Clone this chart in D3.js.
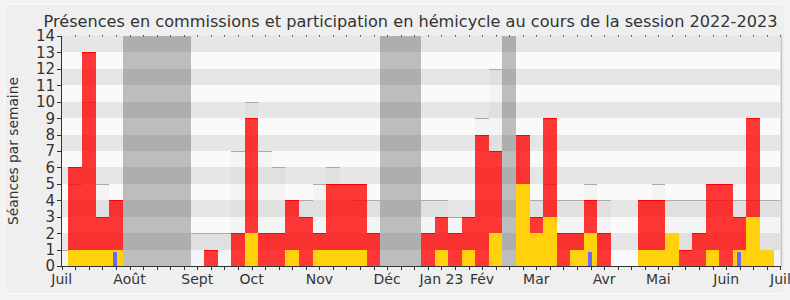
<!DOCTYPE html>
<html>
<head>
<meta charset="utf-8">
<script src="https://cdn.jsdelivr.net/npm/d3@7"></script>
<style>
  body { margin: 0; background: #f3f3f3; }
  svg { display: block; font-family: "DejaVu Sans", Verdana, sans-serif; }
</style>
</head>
<body>
<div id="chart"></div>
<script>
// one slot per week, slot 0 and slot 53 are the partial weeks at both ends
const weeks = d3.range(54);
const commissions = [0, 6, 13, 3, 4, 0, 0, 0, 0, 0, 0, 1, 0, 2, 9, 2, 2, 4, 3, 2, 5, 5, 5, 2, 0, 0, 0,
    2, 3, 2, 3, 8, 7, 0, 8, 3, 9, 2, 2, 4, 2, 0, 0, 4, 4, 2, 1, 2, 5, 5, 3, 9, 1, 0];
const hemicycle = [0, 1, 1, 1, 1, 0, 0, 0, 0, 0, 0, 0, 0, 0, 2, 0, 0, 1, 0, 1, 1, 1, 1, 0, 0, 0, 0,
    0, 1, 0, 1, 0, 2, 0, 5, 2, 3, 0, 1, 2, 0, 0, 0, 1, 1, 2, 0, 0, 1, 0, 1, 3, 1, 0];
const questions = [0, 0, 0, 0, 1, 0, 0, 0, 0, 0, 0, 0, 0, 0, 0, 0, 0, 0, 0, 0, 0, 0, 0, 0, 0, 0, 0,
    0, 0, 0, 0, 0, 0, 0, 0, 0, 0, 0, 0, 1, 0, 0, 0, 0, 0, 0, 0, 0, 0, 0, 1, 0, 0, 0];
const mediane = [1, 5, 10, 5, 4, 0, 0, 0, 0, 0, 2, 2, 2, 7, 10, 7, 6, 4, 4, 5, 6, 5, 4, 4, 0, 0, 0,
    4, 4, 3, 3, 9, 12, 0, 5, 4, 5, 4, 4, 5, 4, 0, 0, 4, 5, 4, 4, 4, 4, 4, 4, 4, 4, 4];
const vacances = [0, 0, 0, 0, 0, 14, 14, 14, 14, 14, 0, 0, 0, 0, 0, 0, 0, 0, 0, 0, 0, 0, 0, 0, 14, 14, 14,
    0, 0, 0, 0, 0, 0, 14, 0, 0, 0, 0, 0, 0, 0, 0, 0, 0, 0, 0, 0, 0, 0, 0, 0, 0, 0, 0];
const monthTicks = [0, 5, 10, 14, 19, 24, 28, 31, 35, 40, 44, 49, 53];
const monthLabels = ["Juil", "Août", "Sept", "Oct", "Nov", "Déc", "Jan 23", "Fév", "Mar", "Avr", "Mai", "Juin", "Juil"];
const yTicks = d3.range(0, 15);
const titleText = "Présences en commissions et participation en hémicycle au cours de la session 2022-2023";
const yTitle = "Séances par semaine";

const width = 790, height = 300;
const plot = {left: 61.7, right: 780.4, top: 36, bottom: 266};

const svg = d3.select("#chart").append("svg")
    .attr("width", width)
    .attr("height", height);

svg.append("rect")
    .attr("x", 4.5).attr("y", 4.5)
    .attr("width", 781).attr("height", 289)
    .attr("rx", 6)
    .attr("fill", "#efefef")
    .attr("stroke", "#fcfcfc");

const x = d3.scaleLinear().domain([0, 53]).range([plot.left, plot.right]);
const y = d3.scaleLinear().domain([0, 14]).range([plot.bottom, plot.top]);
const bw = x(1) - x(0);

svg.append("clipPath").attr("id", "clip")
    .append("rect")
    .attr("x", plot.left).attr("y", plot.top)
    .attr("width", plot.right - plot.left).attr("height", plot.bottom - plot.top);

const g = svg.append("g").attr("clip-path", "url(#clip)");

// stripes
g.append("g").selectAll("rect")
    .data(d3.range(14))
    .enter().append("rect")
    .attr("x", plot.left)
    .attr("width", plot.right - plot.left)
    .attr("y", d => y(d + 1))
    .attr("height", d => y(d) - y(d + 1))
    .attr("fill", d => d % 2 ? "#e6e6e6" : "#fafafa")
    .attr("shape-rendering", "crispEdges");

function bars(cls, values, fill, inset) {
    return g.append("g").attr("class", cls)
        .selectAll("rect")
        .data(weeks.filter(i => values[i] > 0))
        .enter().append("rect")
        .attr("x", i => x(i) - bw / 2 + (inset || 0))
        .attr("width", bw - 2 * (inset || 0))
        .attr("y", i => y(values[i]))
        .attr("height", i => y(0) - y(values[i]))
        .attr("fill", fill)
        .attr("shape-rendering", "crispEdges");
}

function topLines(values, stroke) {
    g.append("g").selectAll("line")
        .data(weeks.filter(i => values[i] > 0))
        .enter().append("line")
        .attr("x1", i => x(i) - bw / 2)
        .attr("x2", i => x(i) + bw / 2)
        .attr("y1", i => Math.round(y(values[i])) + 0.5)
        .attr("y2", i => Math.round(y(values[i])) + 0.5)
        .attr("stroke", stroke)
        .attr("shape-rendering", "crispEdges");
}

bars("mediane", mediane, "rgba(0,0,0,0.025)");
topLines(mediane, "#aaaaaa");
bars("commissions", commissions, "rgba(255,0,0,0.78)");
topLines(commissions, "#ff0000");
bars("hemicycle", hemicycle, "#ffd20c");

g.append("g").selectAll("rect")
    .data(weeks.filter(i => questions[i] > 0))
    .enter().append("rect")
    .attr("x", i => x(i) - 2.5)
    .attr("width", 4)
    .attr("y", i => y(questions[i]) + 2)
    .attr("height", i => y(0) - y(questions[i]) - 2)
    .attr("fill", "#6868ff")
    .attr("shape-rendering", "crispEdges");

bars("vacances", vacances, "rgba(0,0,0,0.245)");

// right shadow of plot
svg.append("line")
    .attr("x1", plot.right + 1).attr("x2", plot.right + 1)
    .attr("y1", plot.top).attr("y2", plot.bottom + 1)
    .attr("stroke", "#c4c4c4").attr("stroke-width", 1.5);

// axes
svg.append("line")
    .attr("x1", plot.left).attr("x2", plot.left)
    .attr("y1", plot.top).attr("y2", plot.bottom)
    .attr("stroke", "#333").attr("shape-rendering", "crispEdges");
svg.append("line")
    .attr("x1", plot.left).attr("x2", plot.right)
    .attr("y1", plot.bottom + 0.5).attr("y2", plot.bottom + 0.5)
    .attr("stroke", "#333").attr("shape-rendering", "crispEdges");

svg.append("g").selectAll("line")
    .data(yTicks)
    .enter().append("line")
    .attr("x1", plot.left - 5).attr("x2", plot.left)
    .attr("y1", d => Math.round(y(d)) + 0.5).attr("y2", d => Math.round(y(d)) + 0.5)
    .attr("stroke", "#333").attr("shape-rendering", "crispEdges");

svg.append("g").selectAll("text")
    .data(yTicks)
    .enter().append("text")
    .attr("x", 55)
    .attr("y", d => y(d))
    .attr("dy", "0.36em")
    .attr("text-anchor", "end")
    .attr("font-size", 15)
    .attr("fill", "#333")
    .text(d => d);

svg.append("g").selectAll("line")
    .data(weeks)
    .enter().append("line")
    .attr("x1", i => Math.round(x(i)) + 0.5).attr("x2", i => Math.round(x(i)) + 0.5)
    .attr("y1", plot.bottom).attr("y2", plot.bottom + 4)
    .attr("stroke", "#333").attr("shape-rendering", "crispEdges");

svg.append("g").selectAll("rect")
    .data(weeks.slice(1))
    .enter().append("rect")
    .attr("x", i => Math.round(x(i)))
    .attr("y", plot.top - 1)
    .attr("width", 1).attr("height", 1.5)
    .attr("fill", "#444");

svg.append("g").selectAll("text")
    .data(monthTicks)
    .enter().append("text")
    .attr("x", (d, i) => x(d))
    .attr("y", 284)
    .attr("text-anchor", "middle")
    .attr("font-size", 14)
    .attr("fill", "#333")
    .text((d, i) => monthLabels[i]);

// titles, fitted to the widths
const title = svg.append("text")
    .attr("x", 410.5).attr("y", 27)
    .attr("text-anchor", "middle")
    .attr("font-size", 16)
    .attr("fill", "#333")
    .text(titleText);
const tl = title.node().getComputedTextLength();
title.attr("font-size", 16 * 735 / tl);

const ylab = svg.append("text")
    .attr("transform", "translate(18,151) rotate(-90)")
    .attr("text-anchor", "middle")
    .attr("font-size", 14)
    .attr("fill", "#333")
    .text(yTitle);
const yl = ylab.node().getComputedTextLength();
ylab.attr("font-size", 14 * 148 / yl);
</script>
</body>
</html>
